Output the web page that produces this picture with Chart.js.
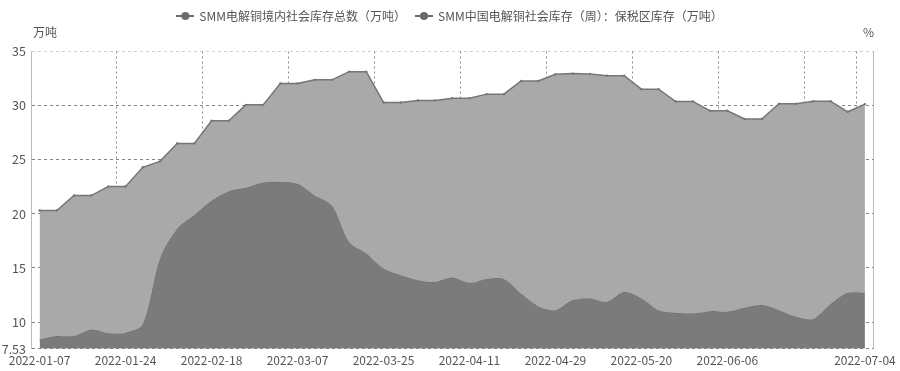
<!DOCTYPE html>
<html>
<head>
<meta charset="utf-8">
<script src="https://cdn.jsdelivr.net/npm/chart.js@4/dist/chart.umd.min.js"></script>
<style>
  html, body { margin: 0; padding: 0; background: #fff; }
  #wrap { position: relative; width: 900px; height: 371px; }
</style>
</head>
<body>
<div id="wrap"><canvas id="c" width="900" height="371"></canvas></div>
<script>
const dates = [
  "2022-01-07", "2022-01-10", "2022-01-13", "2022-01-17", "2022-01-20",
  "2022-01-24", "2022-01-27", "2022-02-07", "2022-02-10", "2022-02-14",
  "2022-02-18", "2022-02-21", "2022-02-24", "2022-02-28", "2022-03-03",
  "2022-03-07", "2022-03-10", "2022-03-14", "2022-03-17", "2022-03-21",
  "2022-03-25", "2022-03-28", "2022-03-31", "2022-04-07", "2022-04-08",
  "2022-04-11", "2022-04-14", "2022-04-18", "2022-04-21", "2022-04-25",
  "2022-04-29", "2022-05-05", "2022-05-09", "2022-05-12", "2022-05-16",
  "2022-05-20", "2022-05-23", "2022-05-26", "2022-05-30", "2022-06-02",
  "2022-06-06", "2022-06-09", "2022-06-13", "2022-06-16", "2022-06-20",
  "2022-06-23", "2022-06-27", "2022-06-30", "2022-07-04"
];

// SMM电解铜境内社会库存总数（万吨）
const totalStock = [
  20.31, 20.31, 21.69, 21.69, 22.52, 22.52, 24.30, 24.85, 26.51, 26.51,
  28.60, 28.60, 30.07, 30.07, 32.04, 32.04, 32.38, 32.38, 33.14, 33.14,
  30.29, 30.29, 30.47, 30.47, 30.69, 30.69, 31.06, 31.06, 32.28, 32.28,
  32.90, 32.96, 32.93, 32.77, 32.77, 31.52, 31.52, 30.38, 30.38, 29.52,
  29.52, 28.76, 28.76, 30.17, 30.17, 30.41, 30.41, 29.43, 30.14
];

// SMM中国电解铜社会库存（周）：保税区库存（万吨）
const bondedStock = [
  8.41, 8.71, 8.71, 9.30, 8.96, 9.02, 9.79, 15.86, 18.63, 19.90,
  21.20, 22.09, 22.40, 22.89, 22.95, 22.77, 21.70, 20.77, 17.40, 16.33,
  14.94, 14.33, 13.87, 13.71, 14.12, 13.62, 13.99, 13.99, 12.64, 11.47,
  11.10, 12.03, 12.18, 11.87, 12.79, 12.18, 11.10, 10.86, 10.80, 11.01,
  10.95, 11.32, 11.57, 11.10, 10.49, 10.28, 11.66, 12.70, 12.70
];

const yTicks = [7.53, 10, 15, 20, 25, 30, 35];
const shownLabels = [0, 5, 10, 15, 20, 25, 30, 35, 40, 48];
const gridOnly = [45];

const fontFamily = '"Noto Sans CJK SC", "Noto Sans", sans-serif';
const textColor = '#555';

// legend icon: short line with a dot in the middle
const icon = document.createElement('canvas');
icon.width = 18;
icon.height = 10;
(() => {
  const g = icon.getContext('2d');
  g.strokeStyle = '#6b6b6b';
  g.fillStyle = '#6b6b6b';
  g.lineWidth = 2;
  g.beginPath();
  g.moveTo(0, 5);
  g.lineTo(18, 5);
  g.stroke();
  g.beginPath();
  g.arc(9, 5, 4, 0, Math.PI * 2);
  g.fill();
})();

const legendGap = {
  id: 'legendGap',
  beforeInit(chart) {
    const fit = chart.legend.fit;
    chart.legend.fit = function () {
      fit.call(this);
      this.height += 19.5;
    };
  }
};

const axisNames = {
  id: 'axisNames',
  afterDraw(chart) {
    const ctx = chart.ctx;
    ctx.save();
    ctx.font = '12px ' + fontFamily;
    ctx.fillStyle = textColor;
    ctx.textBaseline = 'middle';
    ctx.textAlign = 'left';
    ctx.fillText('万吨', 33, 32);
    ctx.textAlign = 'right';
    ctx.fillText('%', 874, 32);
    ctx.restore();
  }
};

const yGridColor = (ctx) => (ctx.tick && ctx.tick.value === 35) ? 'rgba(150,150,150,0.45)' : 'rgba(90,90,90,0.75)';
const xGridColor = (ctx) => (shownLabels.includes(ctx.index) || gridOnly.includes(ctx.index)) && ctx.index > 0
  ? 'rgba(90,90,90,0.7)' : 'rgba(0,0,0,0)';

new Chart(document.getElementById('c'), {
  type: 'line',
  data: {
    labels: dates,
    datasets: [
      {
        label: 'SMM电解铜境内社会库存总数（万吨）',
        data: totalStock,
        borderColor: '#767676',
        backgroundColor: '#a9a9a9',
        borderWidth: 1.5,
        pointRadius: 1.2,
        pointBackgroundColor: '#767676',
        pointBorderWidth: 0,
        tension: 0,
        fill: '+1'
      },
      {
        label: 'SMM中国电解铜社会库存（周）：保税区库存（万吨）',
        data: bondedStock,
        borderColor: '#6e6e6e',
        backgroundColor: '#7b7b7b',
        borderWidth: 1,
        pointRadius: 0,
        tension: 0.3,
        fill: 'start'
      }
    ]
  },
  options: {
    responsive: false,
    animation: false,
    devicePixelRatio: 1,
    layout: { padding: { left: 0, right: 0, top: 0, bottom: 0 } },
    plugins: {
      tooltip: { enabled: false },
      legend: {
        position: 'top',
        align: 'center',
        labels: {
          usePointStyle: true,
          pointStyleWidth: 16,
          padding: 10,
          color: textColor,
          font: { family: fontFamily, size: 12 },
          generateLabels(chart) {
            return Chart.defaults.plugins.legend.labels.generateLabels(chart)
              .map((l) => ({ ...l, pointStyle: icon }));
          }
        }
      }
    },
    scales: {
      x: {
        type: 'category',
        offset: true,
        z: 1,
        grid: {
          offset: true,
          drawTicks: false,
          color: xGridColor,
          lineWidth: 1
        },
        border: { display: false, dash: [2, 3] },
        ticks: {
          autoSkip: false,
          maxRotation: 0,
          padding: 4,
          color: textColor,
          font: { family: fontFamily, size: 12 },
          callback(value, index) {
            return shownLabels.includes(index) ? dates[index] : '';
          }
        },
        afterFit(scale) { scale.height = 22.2; }
      },
      y: {
        type: 'linear',
        position: 'left',
        min: 7.53,
        max: 35,
        z: 1,
        grid: { color: yGridColor, drawTicks: false, lineWidth: 1 },
        border: { display: true, color: 'rgba(170,170,170,0.8)', dash: [3, 3] },
        ticks: {
          padding: 5,
          color: textColor,
          font: { family: fontFamily, size: 12.5 },
          callback(v) { return v === 7.53 ? '7.53' : String(v); }
        },
        afterBuildTicks(scale) { scale.ticks = yTicks.map((v) => ({ value: v })); },
        afterFit(scale) { scale.width = 31; }
      },
      y1: {
        type: 'linear',
        position: 'right',
        min: 7.53,
        max: 35,
        grid: { display: false },
        border: { display: true, color: 'rgba(170,170,170,0.8)', dash: [2, 3] },
        ticks: { display: false },
        afterFit(scale) { scale.width = 26; }
      }
    }
  },
  plugins: [legendGap, axisNames]
});
</script>
</body>
</html>
